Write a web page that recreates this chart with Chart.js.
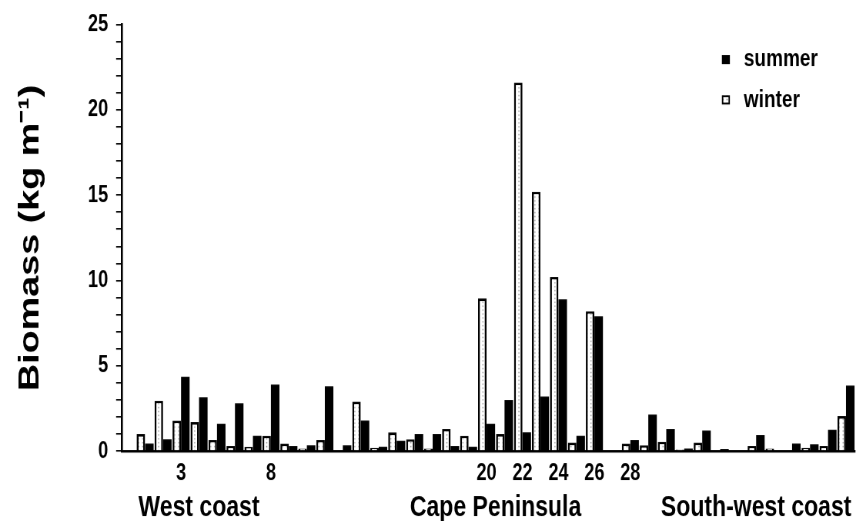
<!DOCTYPE html>
<html>
<head>
<meta charset="utf-8">
<script src="https://cdn.jsdelivr.net/npm/chart.js@4"></script>
<style>
  html, body { margin: 0; padding: 0; background: #fff; }
  body { width: 856px; height: 521px; }
  /* the figure is drawn squat and stretched tall, like the printed plate */
  #wrap { width: 856px; height: 401px; transform: scaleY(1.2993); transform-origin: 0 0; }
</style>
</head>
<body>
<div id="wrap"><canvas id="biomass" width="856" height="401"></canvas></div>
<script>
// sampling sites along the coast, west to east
const sites = [1, 2, 3, 4, 5, 6, 7, 8, 9, 10,
  11, 12, 13, 14, 15, 16, 17, 18, 19, 20,
  21, 22, 23, 24, 25, 26, 27, 28, 29, 30,
  31, 32, 33, 34, 35, 36, 37, 38, 39, 40];

// biomass, kg per metre of shore
const winter = [1.0, 2.95, 1.8, 1.7, 0.65, 0.3, 0.25, 0.9, 0.45, 0.15,
  0.65, 0, 2.9, 0.2, 1.1, 0.7, 0.15, 1.3, 0.9, 8.95,
  1.0, 21.6, 15.2, 10.2, 0.5, 8.2, 0, 0.45, 0.35, 0.55,
  0.1, 0.5, 0.05, 0, 0.3, 0.15, 0, 0.2, 0.3, 2.05];
const summer = [0.45, 0.7, 4.35, 3.15, 1.6, 2.8, 0.9, 3.9, 0.3, 0.35,
  3.8, 0.35, 1.8, 0.25, 0.6, 1.0, 1.0, 0.3, 0.25, 1.6,
  3.0, 1.1, 3.2, 8.9, 0.9, 7.9, 0, 0.65, 2.15, 1.3,
  0.15, 1.2, 0.12, 0, 0.95, 0.05, 0.45, 0.4, 1.25, 3.85];

const siteTicks = [3, 8, 20, 22, 24, 26, 28];

const regions = ['West coast', 'Cape Peninsula', 'South-west coast'];
const regionFirst = [1, 13, 30];
const regionLast = [7, 28, 40];

const FONT = '"Liberation Sans", Arial, Helvetica, sans-serif';
Chart.defaults.font.family = FONT;
Chart.defaults.color = '#000';

// white bars get a faint grey stipple
function stipple() {
  const c = document.createElement('canvas');
  c.width = 4; c.height = 3;
  const g = c.getContext('2d');
  g.fillStyle = '#fff';
  g.fillRect(0, 0, 4, 3);
  g.fillStyle = '#8c8c8c';
  g.fillRect(2, 1, 1, 1);
  return g.createPattern(c, 'repeat');
}

// key in the top right corner, summer first
const seasonKey = {
  id: 'seasonKey',
  afterDraw(chart) {
    const { ctx, chartArea } = chart;
    ctx.save();
    ctx.font = 'bold 19px ' + FONT;
    ctx.textBaseline = 'middle';
    [1, 0].forEach((di, row) => {
      const ds = chart.data.datasets[di];
      const x = chartArea.right - 133;
      const y = chartArea.top + 27 + row * 31;
      ctx.fillStyle = ds.backgroundColor;
      ctx.fillRect(x, y - 3.5, 8, 7);
      if (ds.borderWidth) {
        ctx.lineWidth = 1.4;
        ctx.strokeStyle = '#000';
        ctx.strokeRect(x + 0.7, y - 2.8, 6.6, 5.6);
      }
      ctx.fillStyle = '#000';
      ctx.fillText(ds.label, x + 22, y);
    });
    ctx.restore();
  }
};

const xMin = -0.28, xMax = 40.5;

new Chart(document.getElementById('biomass'), {
  type: 'bar',
  data: {
    datasets: [{
      label: 'winter',
      data: sites.map((s, i) => ({ x: s, y: winter[i] })),
      backgroundColor: stipple(),
      borderColor: '#000',
      borderWidth: 2,
      categoryPercentage: 0.95,
      barPercentage: 1
    }, {
      label: 'summer',
      data: sites.map((s, i) => ({ x: s, y: summer[i] })),
      backgroundColor: '#000',
      borderWidth: 0,
      categoryPercentage: 0.95,
      barPercentage: 1
    }]
  },
  options: {
    responsive: false,
    devicePixelRatio: 1.3,
    animation: false,
    layout: { padding: { top: 18, right: 0, left: 0, bottom: 0 } },
    plugins: { legend: { display: false }, tooltip: { enabled: false } },
    scales: {
      x: {
        type: 'linear',
        offset: false,
        min: xMin, max: xMax,
        weight: 0,
        afterBuildTicks: s => { s.ticks = siteTicks.map(v => ({ value: v })); },
        afterFit: s => { s.height = 27; },
        border: { color: '#000', width: 2 },
        grid: { display: false, drawTicks: false, offset: false },
        ticks: {
          autoSkip: false, maxRotation: 0, padding: 8,
          font: { size: 18, weight: 'bold', lineHeight: 1 },
          callback: v => String(v)
        }
      },
      x2: {
        type: 'linear',
        position: 'bottom',
        offset: false,
        min: xMin, max: xMax,
        weight: 1,
        afterBuildTicks: s => {
          s.ticks = regions.map((r, i) => ({ value: (regionFirst[i] + regionLast[i]) / 2 }));
        },
        afterFit: s => { s.height = 27; },
        border: { display: false },
        grid: { display: false, drawTicks: false, offset: false },
        ticks: {
          autoSkip: false, maxRotation: 0, padding: 5,
          font: { size: 23, weight: 'bold', lineHeight: 1 },
          callback: (v, i) => regions[i]
        }
      },
      y: {
        min: 0, max: 25,
        afterFit: s => { s.width = 122; },
        border: { color: '#000', width: 2 },
        grid: { drawOnChartArea: false, color: '#000', tickLength: 6, lineWidth: 1.2 },
        ticks: {
          stepSize: 1, autoSkip: false, padding: 8,
          font: { size: 18, weight: 'bold' },
          callback: v => (v % 5 === 0 ? v : '')
        },
        title: {
          display: true,
          text: 'Biomass (kg m⁻¹)',
          font: { size: 29, weight: 'bold' },
          padding: { top: 13, bottom: 0 }
        }
      }
    }
  },
  plugins: [seasonKey]
});
</script>
</body>
</html>
